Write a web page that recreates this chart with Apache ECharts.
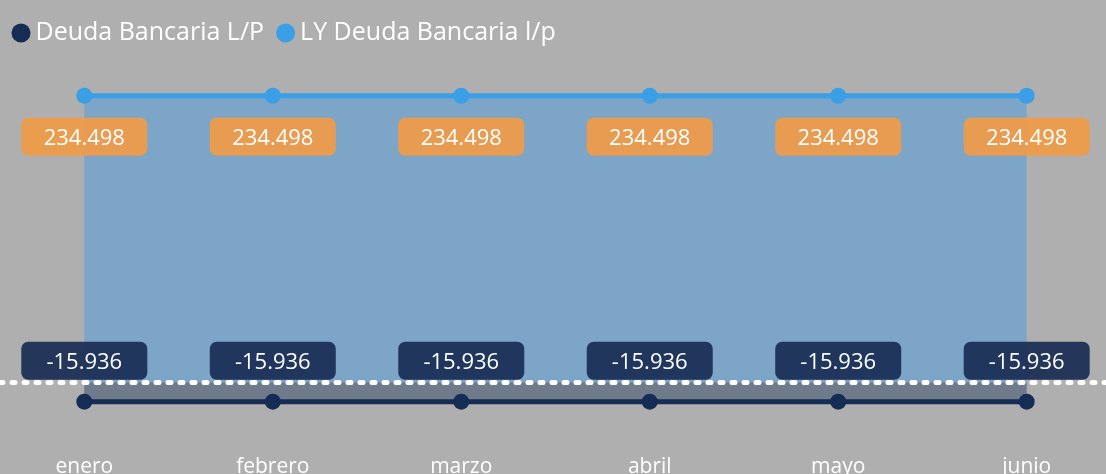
<!DOCTYPE html>
<html>
<head>
<meta charset="utf-8">
<script src="https://cdn.jsdelivr.net/npm/echarts@6/dist/echarts.min.js"></script>
<style>
html,body{margin:0;padding:0;background:#afafaf;}
#c{width:1106px;height:474px;}
</style>
</head>
<body>
<div id="c"></div>
<script>
const categories = ['enero','febrero','marzo','abril','mayo','junio'];
const deudaLP = [-15.936,-15.936,-15.936,-15.936,-15.936,-15.936];
const lyDeudaLP = [234.498,234.498,234.498,234.498,234.498,234.498];
const seriesNames = ['Deuda Bancaria L/P','LY Deuda Bancaria l/p'];
const zeroLine = 0;

const fmt = v => v.toFixed(3);
const FONT = '"Open Sans", "Noto Sans", sans-serif';
const Y_MIN = -50, Y_MAX = 250;
const GRID_TOP = 76.8, GRID_BOTTOM = 30.7;

const chart = echarts.init(document.getElementById('c'));
chart.setOption({
  backgroundColor: '#afafaf',
  animation: false,
  legend: {
    left: 11.5, top: 18, padding: 0,
    itemWidth: 19, itemHeight: 19, itemGap: 12,
    icon: 'circle',
    textStyle: { color: '#ffffff', fontSize: 25, lineHeight: 30, fontFamily: FONT },
    data: seriesNames
  },
  grid: [
    { left: 84.3, right: 79.3, top: GRID_TOP, bottom: GRID_BOTTOM, containLabel: false, outerBoundsMode: 'none' },
    { left: 0, right: 0, top: GRID_TOP, bottom: GRID_BOTTOM, containLabel: false, outerBoundsMode: 'none' }
  ],
  xAxis: [
    {
      type: 'category', data: categories, boundaryGap: false, gridIndex: 0,
      axisLine: { show: false, onZero: false }, axisTick: { show: false },
      splitLine: { show: false },
      axisLabel: { color: '#ffffff', fontSize: 21, fontFamily: FONT, margin: 13 }
    },
    { type: 'value', gridIndex: 1, min: 0, max: 1, show: false }
  ],
  yAxis: [
    { type: 'value', min: Y_MIN, max: Y_MAX, show: false, gridIndex: 0, splitLine: { show: false } },
    { type: 'value', min: Y_MIN, max: Y_MAX, show: false, gridIndex: 1, splitLine: { show: false } }
  ],
  series: [
    {
      name: '__zero', type: 'line', xAxisIndex: 1, yAxisIndex: 1, data: [],
      silent: true, z: 1,
      markLine: {
        silent: true, symbol: 'none', label: { show: false },
        lineStyle: { color: '#ffffff', width: 5, type: [3, 9], cap: 'round', opacity: 1 },
        emphasis: { disabled: true },
        data: [{ yAxis: zeroLine }]
      }
    },
    {
      name: seriesNames[1], type: 'line', data: lyDeudaLP,
      color: '#3a9fe6', symbol: 'circle', symbolSize: 16,
      lineStyle: { width: 5, color: '#3a9fe6' },
      itemStyle: { color: '#3a9fe6' },
      areaStyle: { color: 'rgba(75,155,225,0.5)', opacity: 1 },
      label: {
        show: true, position: 'bottom', distance: 14,
        formatter: p => fmt(p.value),
        color: '#ffffff', fontSize: 22, lineHeight: 24, fontFamily: FONT,
        backgroundColor: 'rgba(240,155,70,0.92)', borderRadius: 7,
        padding: [9, 23, 5, 23], width: 80, align: 'center'
      },
      z: 2
    },
    {
      name: seriesNames[0], type: 'line', data: deudaLP,
      color: '#152c55', symbol: 'circle', symbolSize: 16,
      lineStyle: { width: 5, color: '#152c55' },
      itemStyle: { color: '#152c55' },
      areaStyle: { color: 'rgba(47,69,101,0.5)', opacity: 1 },
      label: {
        show: true, position: 'top', distance: 14,
        formatter: p => fmt(p.value),
        color: '#ffffff', fontSize: 22, lineHeight: 24, fontFamily: FONT,
        backgroundColor: 'rgba(24,45,84,0.92)', borderRadius: 7,
        padding: [9, 23, 5, 23], width: 80, align: 'center'
      },
      z: 3
    }
  ]
});
</script>
</body>
</html>
